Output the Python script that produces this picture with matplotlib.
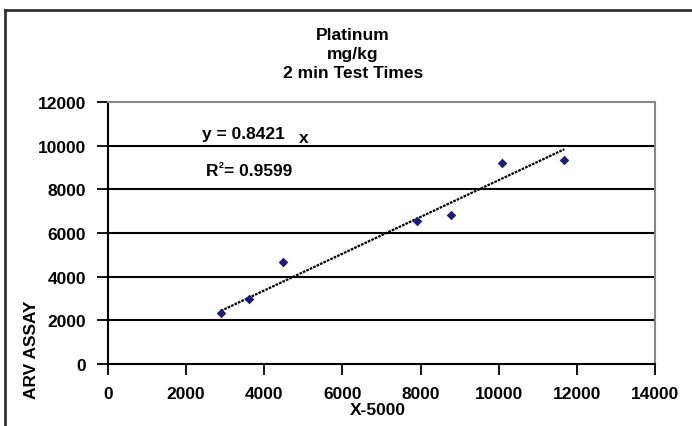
import matplotlib
matplotlib.use("Agg")
import matplotlib.pyplot as plt
from matplotlib.lines import Line2D
import numpy as np

# Data
x_vals = [2890, 3620, 4470, 7900, 8780, 10080, 11680]
y_vals = [2340, 2980, 4690, 6560, 6840, 9190, 9345]
slope = 0.8421
r2 = 0.9599
x_ticks = [0, 2000, 4000, 6000, 8000, 10000, 12000, 14000]
y_ticks = [0, 2000, 4000, 6000, 8000, 10000, 12000]
title_lines = ["Platinum", "mg/kg", "2 min Test Times"]

plt.rcParams['font.family'] = ['Liberation Sans', 'DejaVu Sans']
plt.rcParams['font.weight'] = 'bold'

W, H = 692, 427
fig = plt.figure(figsize=(W / 100, H / 100), dpi=100)

ax = fig.add_axes([108 / W, (H - 365) / H, (655 - 108) / W, (365 - 103) / H])
ax.set_xlim(0, 14000)
ax.set_ylim(0, 12000)

# gridlines
for yv in y_ticks[1:-1]:
    ax.axhline(yv, color='black', lw=1.5, zorder=1)

ax.scatter(x_vals, y_vals, marker='D', s=24, color='#1C1C78', zorder=3, linewidths=0)

xs = np.array([min(x_vals), max(x_vals)])
ax.plot(xs, slope * xs, color='black', lw=1.6, linestyle=(0, (1.2, 0.5)), zorder=2)

ax.set_xticks(x_ticks)
ax.set_yticks(y_ticks)
ax.set_xticklabels([str(v) for v in x_ticks], fontsize=12.5, fontweight='bold')
ax.set_yticklabels([str(v) for v in y_ticks], fontsize=12.5, fontweight='bold')
ax.tick_params(axis='both', direction='out', length=8, width=1.3, color='black')
ax.tick_params(axis='x', pad=8)
ax.tick_params(axis='y', pad=8)

ax.spines['left'].set_color('black')
ax.spines['bottom'].set_color('black')
ax.spines['left'].set_linewidth(1.5)
ax.spines['bottom'].set_linewidth(1.5)
ax.spines['top'].set_color('#888888')
ax.spines['right'].set_color('#888888')
ax.spines['top'].set_linewidth(1.5)
ax.spines['right'].set_linewidth(1.5)

# trendline equation text
fig.text(202 / W, 1 - 135 / H, "y = %.4f" % slope, fontsize=12.5, fontweight='bold',
         ha='left', va='center')
fig.text(299 / W, 1 - 139 / H, "x", fontsize=12.5, fontweight='bold',
         ha='left', va='center')
fig.text(206 / W, 1 - 172 / H, "R", fontsize=12.5, fontweight='bold',
         ha='left', va='center')
fig.text(219 / W, 1 - 165 / H, "2", fontsize=6.5, fontweight='bold',
         ha='left', va='center')
fig.text(224 / W, 1 - 172 / H, "= %.4f" % r2, fontsize=12.5, fontweight='bold',
         ha='left', va='center')

# title
for i, t in enumerate(title_lines):
    fig.text(353 / W, 1 - (35 + 19 * i) / H, t, fontsize=12.5, fontweight='bold',
             ha='center', va='center')

# axis labels
fig.text(378 / W, 1 - 411 / H, "X-5000", fontsize=12.5, fontweight='bold',
         ha='center', va='center')
fig.text(32 / W, 1 - 350 / H, "ARV ASSAY", fontsize=12.5, fontweight='bold',
         ha='center', va='center', rotation=90)

# outer chart border (top and left)
fig.add_artist(Line2D([5 / W, 5 / W], [0, 1 - 11 / H], color='#333333', lw=2,
                      transform=fig.transFigure))
fig.add_artist(Line2D([5 / W, 1], [1 - 11 / H, 1 - 11 / H], color='#333333', lw=2,
                      transform=fig.transFigure))

fig.savefig("out.png", dpi=100)
